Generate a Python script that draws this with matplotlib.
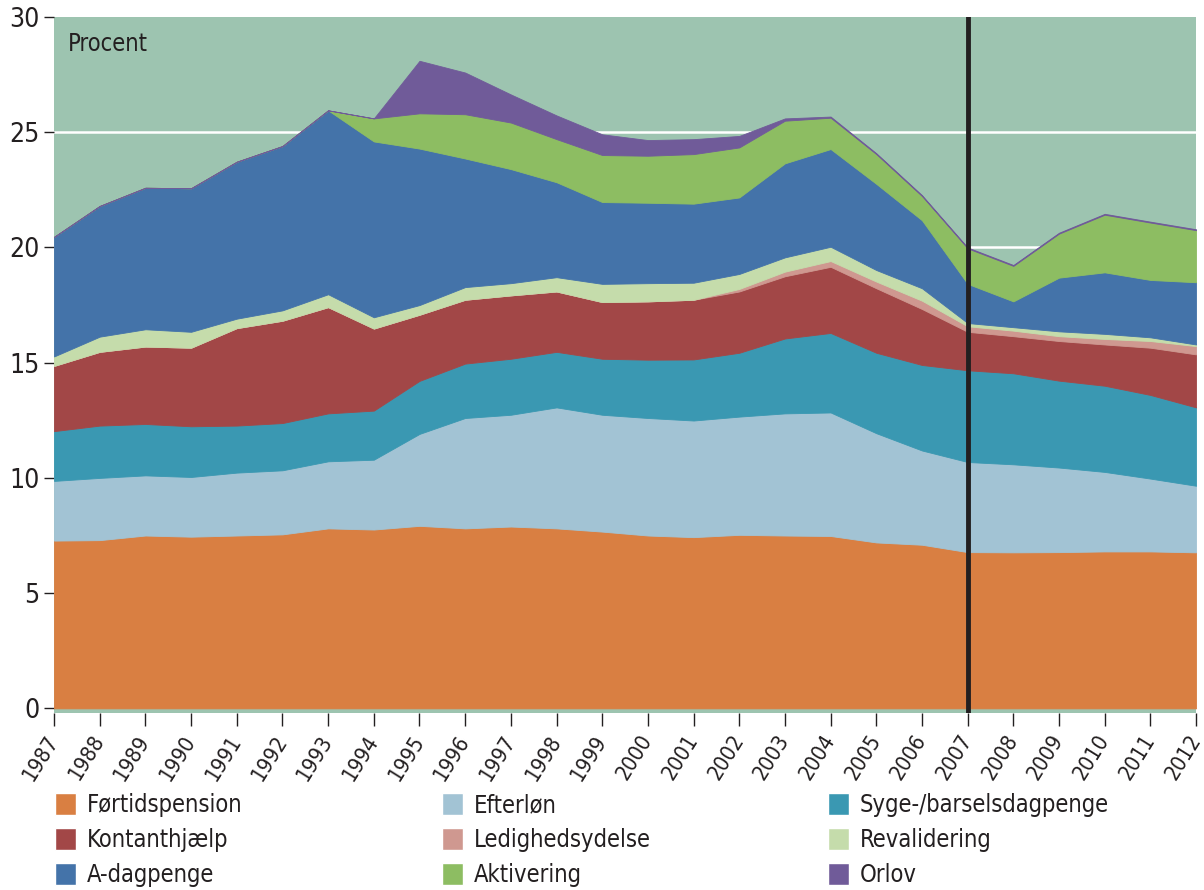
import numpy as np
import matplotlib
matplotlib.use("Agg")
import matplotlib.pyplot as plt
from matplotlib.patches import Patch

years = list(range(1987, 2013))

fortidspension = [7.28, 7.30, 7.50, 7.45, 7.50, 7.55, 7.81, 7.76, 7.92, 7.81, 7.89, 7.81, 7.67,
                  7.50, 7.43, 7.53, 7.50, 7.48, 7.20, 7.10, 6.78, 6.77, 6.78, 6.81, 6.81, 6.77]
efterlon = [2.59, 2.70, 2.61, 2.59, 2.73, 2.78, 2.91, 3.03, 3.99, 4.79, 4.85, 5.25, 5.07,
            5.10, 5.06, 5.13, 5.30, 5.36, 4.74, 4.09, 3.91, 3.82, 3.67, 3.45, 3.16, 2.89]
syge = [2.16, 2.27, 2.23, 2.20, 2.04, 2.05, 2.08, 2.13, 2.30, 2.36, 2.43, 2.41, 2.43,
        2.53, 2.65, 2.77, 3.25, 3.45, 3.49, 3.71, 3.98, 3.95, 3.77, 3.74, 3.63, 3.40]
kontanthjaelp = [2.83, 3.20, 3.36, 3.41, 4.23, 4.44, 4.61, 3.56, 2.87, 2.77, 2.75, 2.62, 2.46,
                 2.53, 2.59, 2.66, 2.70, 2.87, 2.80, 2.43, 1.67, 1.61, 1.72, 1.79, 2.05, 2.30]
ledighedsydelse = [0, 0, 0, 0, 0, 0, 0, 0, 0, 0, 0, 0, 0,
                   0, 0, 0.11, 0.20, 0.25, 0.29, 0.36, 0.24, 0.24, 0.21, 0.24, 0.29, 0.36]
revalidering = [0.41, 0.66, 0.75, 0.69, 0.41, 0.45, 0.56, 0.49, 0.42, 0.55, 0.53, 0.62, 0.79,
                0.79, 0.74, 0.65, 0.62, 0.62, 0.50, 0.54, 0.14, 0.15, 0.21, 0.22, 0.16, 0.07]
a_dagpenge = [5.19, 5.67, 6.14, 6.23, 6.81, 7.13, 7.98, 7.63, 6.79, 5.58, 4.95, 4.12, 3.55,
              3.49, 3.43, 3.32, 4.08, 4.24, 3.74, 2.95, 1.70, 1.12, 2.33, 2.67, 2.49, 2.70]
aktivering = [0, 0, 0, 0, 0, 0, 0, 1.00, 1.53, 1.92, 2.02, 1.87, 2.04,
              2.04, 2.15, 2.17, 1.85, 1.36, 1.29, 1.05, 1.54, 1.54, 1.91, 2.50, 2.49, 2.26]
orlov = [0, 0, 0, 0, 0, 0, 0, 0, 2.28, 1.81, 1.22, 1.03, 0.90,
         0.68, 0.65, 0.50, 0.10, 0.05, 0.04, 0.04, 0.04, 0.04, 0.04, 0.04, 0.04, 0.04]

labels = ["Førtidspension", "Efterløn", "Syge-/barselsdagpenge", "Kontanthjælp",
          "Ledighedsydelse", "Revalidering", "A-dagpenge", "Aktivering", "Orlov"]
colors = ["#d97f42", "#a2c3d4", "#3a98b2", "#a24747", "#cf9890",
          "#c5dcab", "#4473a9", "#8dbd62", "#705b99"]

plt.rcParams["font.family"] = ["DejaVu Sans"]
plt.rcParams["font.stretch"] = "condensed"
dark = "#231f20"

fig = plt.figure(figsize=(12.04, 8.90), dpi=100)
ax = fig.add_axes([0.0449, 0.1989, 0.9485, 0.782])
ax.set_facecolor("#9dc4b0")

series = [fortidspension, efterlon, syge, kontanthjaelp, ledighedsydelse,
          revalidering, a_dagpenge, aktivering, orlov]
polys = ax.stackplot(years, *series, colors=colors, zorder=2)
for p, c in zip(polys, colors):
    p.set_edgecolor(c)
    p.set_linewidth(0.6)

for y in [5, 10, 15, 20, 25]:
    ax.axhline(y, color="white", lw=1.8, zorder=1)

ax.axvline(2007, color=dark, lw=3.5, zorder=5)

ax.set_xlim(1987, 2012)
ax.set_ylim(-0.2, 30)
ax.set_yticks([0, 5, 10, 15, 20, 25, 30])
ax.set_xticks(years)
ax.set_xticklabels([str(y) for y in years], rotation=58, ha="right", va="center",
                   rotation_mode="anchor", fontsize=15.5, color=dark)
ax.tick_params(axis="y", labelsize=19, length=7, colors=dark, width=1)
ax.tick_params(axis="x", length=9, color=dark, width=1, pad=8)
for s in ax.spines.values():
    s.set_visible(False)

ax.text(0.012, 0.978, "Procent", transform=ax.transAxes, fontsize=17,
        color=dark, va="top", ha="left")

# legend: one column per legend box so the columns line up with the reference
xpos = [0.038, 0.359, 0.680]
for col in range(3):
    idx = [col, col + 3, col + 6]
    handles = [Patch(facecolor=colors[i], edgecolor="white", lw=1) for i in idx]
    leg = fig.legend(handles, [labels[i] for i in idx], loc="upper left",
                     bbox_to_anchor=(xpos[col], 0.12), frameon=False,
                     fontsize=17, handlelength=0.9, handleheight=1.1,
                     labelspacing=0.45, handletextpad=0.45, borderaxespad=0)
    for t in leg.get_texts():
        t.set_color(dark)

fig.savefig("out.png", dpi=100)
